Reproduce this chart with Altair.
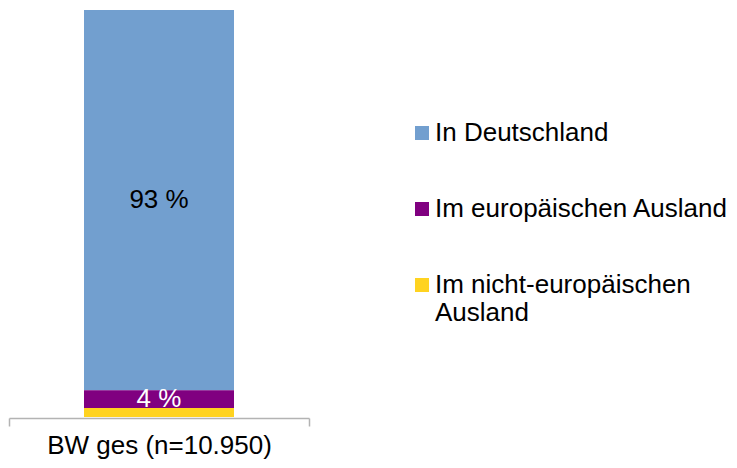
import altair as alt
import pandas as pd

categories = ["In Deutschland", "Im europäischen Ausland", "Im nicht-europäischen\nAusland"]
values = [93.4, 4.4, 2.2]
labels = ["93 %", "4 %", ""]
stack_order = [3, 2, 1]
group = ["BW ges (n=10.950)"] * 3
colors = ["#729FCF", "#800080", "#FFD320"]

df = pd.DataFrame({
    "group": group,
    "cat": categories,
    "value": values,
    "label": labels,
    "ord": stack_order,
})

FONT = "Liberation Sans"

x_enc = alt.X(
    "group:N",
    title=None,
    scale=alt.Scale(paddingInner=0, paddingOuter=0),
    axis=alt.Axis(
        labelAngle=0,
        labelFontSize=26,
        labelFont=FONT,
        labelColor="#000000",
        labelPadding=6,
        labelLimit=0,
        tickBand="extent",
        tickSize=8,
        tickColor="#b3b3b3",
        tickWidth=1.5,
        domainColor="#b3b3b3",
        domainWidth=1.5,
        offset=1,
    ),
)

bars = alt.Chart(df).mark_bar(size=150).encode(
    x=x_enc,
    y=alt.Y("value:Q", stack="zero", scale=alt.Scale(domain=[0, 100]), axis=None),
    color=alt.Color(
        "cat:N",
        scale=alt.Scale(domain=categories, range=colors),
        sort=categories,
        legend=alt.Legend(
            title=None,
            orient="none",
            legendX=400,
            legendY=110,
            symbolType="square",
            symbolSize=196,
            symbolStrokeWidth=0,
            labelFontSize=26,
            labelFont=FONT,
            labelColor="#000000",
            labelLimit=0,
            labelOffset=0,
            rowPadding=50,
            labelExpr="split(datum.label, '\\n')",
        ),
    ),
    order=alt.Order("ord:Q", sort="ascending"),
)

text = alt.Chart(df).transform_window(
    cum="sum(value)", sort=[alt.SortField("ord", order="ascending")]
).transform_calculate(
    mid="datum.cum - datum.value / 2"
).mark_text(fontSize=26, font=FONT, baseline="middle").encode(
    x=alt.X("group:N"),
    y=alt.Y("mid:Q", scale=alt.Scale(domain=[0, 100])),
    text="label:N",
    color=alt.condition(
        "datum.cat == 'Im europäischen Ausland'", alt.value("#ffffff"), alt.value("#000000")
    ),
)

chart = alt.layer(bars, text).properties(
    width=300,
    height=407,
    autosize=alt.AutoSizeParams(type="none"),
    padding={"left": 1, "top": 2, "right": 420, "bottom": 43},
).configure_view(stroke=None)

chart.save("out.html", embed_options={"renderer": "svg", "actions": False})
